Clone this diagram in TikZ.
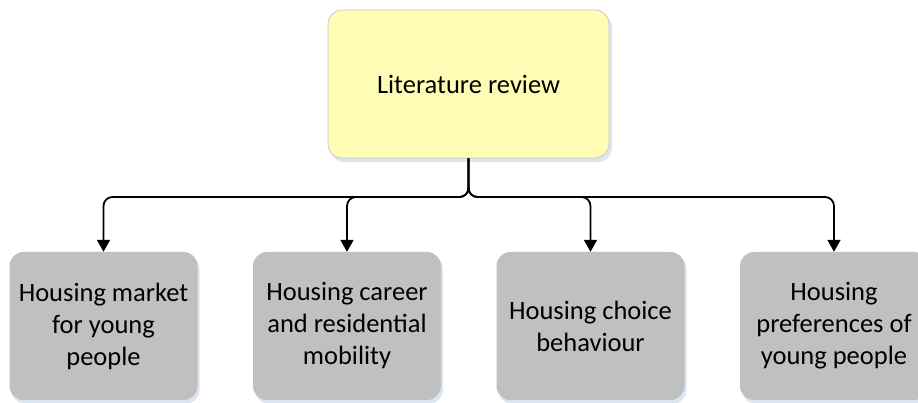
\documentclass[tikz,border=0pt]{standalone}
\usepackage{fontspec}
\setmainfont{Carlito}
\usetikzlibrary{arrows.meta}
\definecolor{topfill}{HTML}{FFFDB5}
\definecolor{topline}{HTML}{C9C9C9}
\definecolor{leaffill}{HTML}{C0C0C0}
\definecolor{shade}{HTML}{DCE6F2}
\tikzset{
  rootbox/.style={draw=topline, line width=0.8pt, fill=topfill, rounded corners=14pt,
    minimum width=281pt, minimum height=148pt, inner sep=0pt,
    font=\fontsize{26.5}{30}\selectfont},
  leafbox/.style={fill=leaffill, rounded corners=14pt,
    minimum width=188pt, minimum height=148pt, inner sep=0pt,
    align=center, font=\fontsize{26.5}{32}\selectfont},
  boxshadow/.style={fill=shade, rounded corners=14pt, draw=none},
  branch/.style={draw=black, line width=1.8pt, rounded corners=9pt,
    -{Triangle[width=13pt,length=12pt]}},
}
\begin{document}
\begin{tikzpicture}[x=1pt,y=-1pt]
\useasboundingbox (0,0) rectangle (918,403);
\clip (0,0) rectangle (918,403);
% soft blue shadows under the boxes
\fill[boxshadow] (330,13) rectangle (612,162);
\foreach \cx in {103.5,347,590.5,834}
  \fill[boxshadow] (\cx-92,255) rectangle (\cx+96,404);
% root
\node[rootbox] (root) at (468.5,84) {Literature review};
% leaves
\node[leafbox] (a) at (103.5,326) {Housing market\\for young\\people};
\node[leafbox] (b) at (347,326) {Housing career\\and residential\\mobility};
\node[leafbox] (c) at (590.5,326) {Housing choice\\behaviour};
\node[leafbox] (d) at (834,326) {Housing\\preferences of\\young people};
% branching connectors
\coordinate (split) at (468.5,197);
\foreach \leaf in {a,b,c,d}
  \draw[branch] (root.south) -- (split) -| (\leaf.north);
\end{tikzpicture}
\end{document}
